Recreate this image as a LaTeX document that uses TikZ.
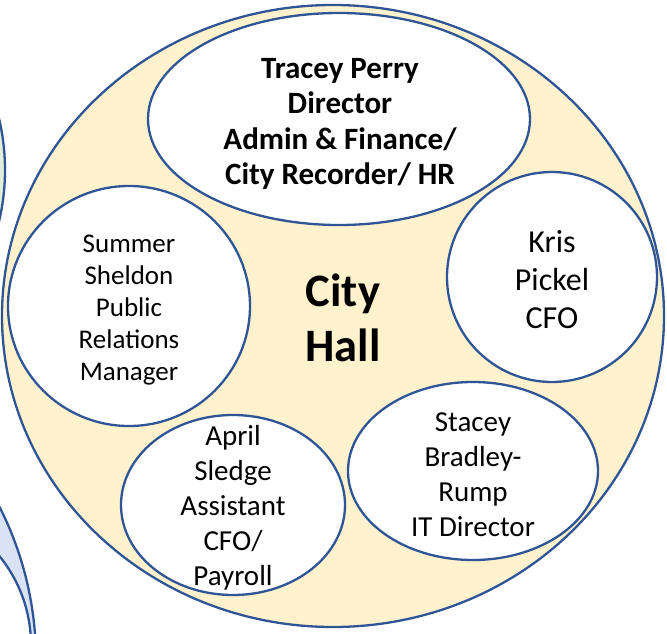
\documentclass[tikz,border=0pt]{standalone}
\usepackage{fontspec}
\setmainfont{Carlito}
\usetikzlibrary{shapes.geometric}
\definecolor{rim}{HTML}{2F5597}
\definecolor{cream}{HTML}{FFF2CC}
\definecolor{paleblue}{HTML}{DAE3F3}
\definecolor{palegreen}{HTML}{E2F0D9}
\begin{document}
\begin{tikzpicture}[x=1pt,y=-1pt,
  rimline/.style={draw=rim, line width=2.3pt},
  person/.style={ellipse, rimline, fill=white, inner sep=0pt},
  caption/.style={align=center, text=black, inner sep=0pt},
  bodytext/.style={caption, font=\fontsize{29}{35}\selectfont},
  boldtext/.style={caption, font=\bfseries\fontsize{31}{35.5}\selectfont}]
\useasboundingbox (0,0) rectangle (667,634);
\clip (0,0) rectangle (667,634);

% neighbouring groups, mostly off the page
\draw[rimline, fill=palegreen] (-218,170) circle (223pt);
\draw[rimline, fill=paleblue] (-303,660) circle (339pt);
\draw[rimline, fill=white] (-110,645) circle (141pt);

% the City Hall group
\node[ellipse, rimline, fill=cream, inner sep=0pt,
      minimum width=662pt, minimum height=622pt] (hall) at (333,316) {};
\node[caption, font=\bfseries\fontsize{46.5}{55}\selectfont] (hallname) at (343,318) {City\\Hall};

% member ellipses
\node[person, minimum width=382pt, minimum height=212pt] (perry) at (339,119) {};
\node[person, minimum width=242pt, minimum height=240pt] (sheldon) at (129,306) {};
\node[person, minimum width=210pt, minimum height=210pt] (pickel) at (552,277) {};
\node[person, minimum width=250pt, minimum height=178pt] (rump) at (473,471) {};
\node[person, minimum width=224pt, minimum height=180pt] (sledge) at (233,505) {};

% member names
\node[boldtext] (perrytext) at (340,124)
  {Tracey Perry\\Director\\Admin \& Finance/\\City Recorder/ HR};
\node[caption, font=\fontsize{27}{32}\selectfont] (sheldontext) at (129,310)
  {Summer\\Sheldon\\Public\\Relations\\Manager};
\node[caption, font=\fontsize{32}{38}\selectfont] (pickeltext) at (552,280)
  {Kris\\Pickel\\CFO};
\node[bodytext] (rumptext) at (473,475)
  {Stacey\\Bradley-\\Rump\\IT Director};
\node[bodytext] (sledgetext) at (233,508)
  {April\\Sledge\\Assistant\\CFO/\\Payroll};
\end{tikzpicture}
\end{document}
